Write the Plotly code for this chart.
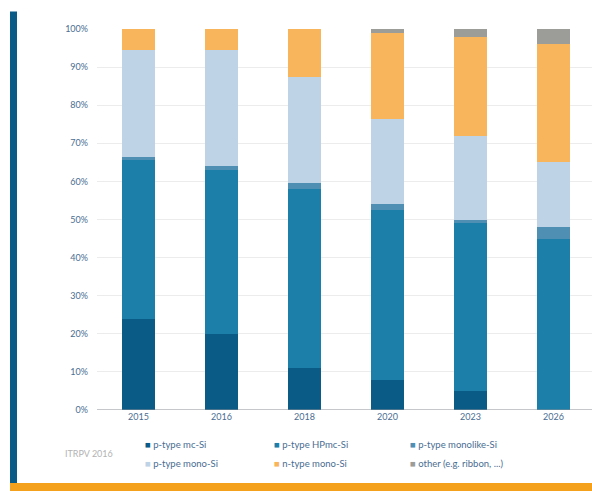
import plotly.graph_objects as go

# Wafer type market shares (ITRPV 2016), stacked bottom to top
years = ["2015", "2016", "2018", "2020", "2023", "2026"]
series_names = [
    "p-type mc-Si",
    "p-type HPmc-Si",
    "p-type monolike-Si",
    "p-type mono-Si",
    "n-type mono-Si",
    "other (e.g. ribbon, ...)",
]
p_mc = [24, 20, 11, 8, 5, 0]
p_hpmc = [41.5, 43, 47, 44.5, 44, 45]
p_monolike = [1, 1, 1.5, 1.5, 1, 3]
p_mono = [28, 30.5, 28, 22.5, 22, 17]
n_mono = [5.5, 5.5, 12.5, 22.5, 26, 31]
other = [0, 0, 0, 1, 2, 4]
y_ticks = list(range(0, 101, 10))
y_tick_labels = ["0%", "10%", "20%", "30%", "40%", "50%",
                 "60%", "70%", "80%", "90%", "100%"]
source_note = "ITRPV 2016"

series_values = [p_mc, p_hpmc, p_monolike, p_mono, n_mono, other]
colors = ["#0b5b87", "#1b7fa9", "#4f8fb3", "#bed3e6", "#f8b55c", "#9c9c98"]

W, H = 592, 491
left, top, bottom_px = 97, 28.5, 410
plot_w = W - left
plot_h = bottom_px - top

fig = go.Figure()
for name, vals, col in zip(series_names, series_values, colors):
    fig.add_trace(go.Bar(
        x=years, y=vals, name=name,
        marker=dict(color=col, line=dict(width=0)),
        width=0.386, showlegend=False,
    ))

def px_x(px):
    return (px - left) / plot_w

def px_y(px):
    return (bottom_px - px) / plot_h

shapes = [
    # dark blue side stripe
    dict(type="rect", xref="paper", yref="paper",
         x0=px_x(10), x1=px_x(17), y0=px_y(483), y1=px_y(11),
         fillcolor="#0b5b87", line=dict(width=0), layer="above"),
    # orange footer band
    dict(type="rect", xref="paper", yref="paper",
         x0=px_x(10), x1=px_x(600), y0=px_y(495), y1=px_y(483),
         fillcolor="#f4a11d", line=dict(width=0), layer="above"),
    # baseline
    dict(type="line", xref="paper", yref="y",
         x0=0, x1=1, y0=0, y1=0,
         line=dict(color="#8a8f94", width=1)),
]

annotations = [
    dict(text=source_note, xref="paper", yref="paper",
         x=px_x(89), y=px_y(454), xanchor="center", yanchor="middle",
         showarrow=False, font=dict(family="Lato", size=9, color="#b3b3b3")),
]

# legend built as text rows: three columns, two rows
col_x = [143, 272, 408]
row_y = [445, 464]
for i, (name, col) in enumerate(zip(series_names, colors)):
    r, c = divmod(i, 3)
    annotations.append(dict(
        text=f"<span style='color:{col}'>■</span> {name}",
        xref="paper", yref="paper",
        x=px_x(col_x[c]), y=px_y(row_y[r]),
        xanchor="left", yanchor="middle", showarrow=False,
        font=dict(family="Lato", size=9.5, color="#4a6d92"),
    ))

fig.update_layout(
    width=W, height=H,
    margin=dict(l=left, r=0, t=top, b=H - bottom_px, pad=0),
    barmode="stack",
    paper_bgcolor="white", plot_bgcolor="white",
    shapes=shapes, annotations=annotations,
    xaxis=dict(
        type="category", range=[-0.5, 5.5 - 3 / 83],
        showgrid=False, zeroline=False, showline=False,
        ticks="", tickfont=dict(family="Lato", size=9, color="#4a6d92"),
    ),
    yaxis=dict(
        range=[0, 100], tickvals=y_ticks, ticktext=y_tick_labels,
        showgrid=True, gridcolor="#ececec", gridwidth=1,
        zeroline=False, showline=False, ticks="",
        ticklabelstandoff=8,
        tickfont=dict(family="Lato", size=9, color="#4a6d92"),
    ),
)

fig.write_html("out.html")
